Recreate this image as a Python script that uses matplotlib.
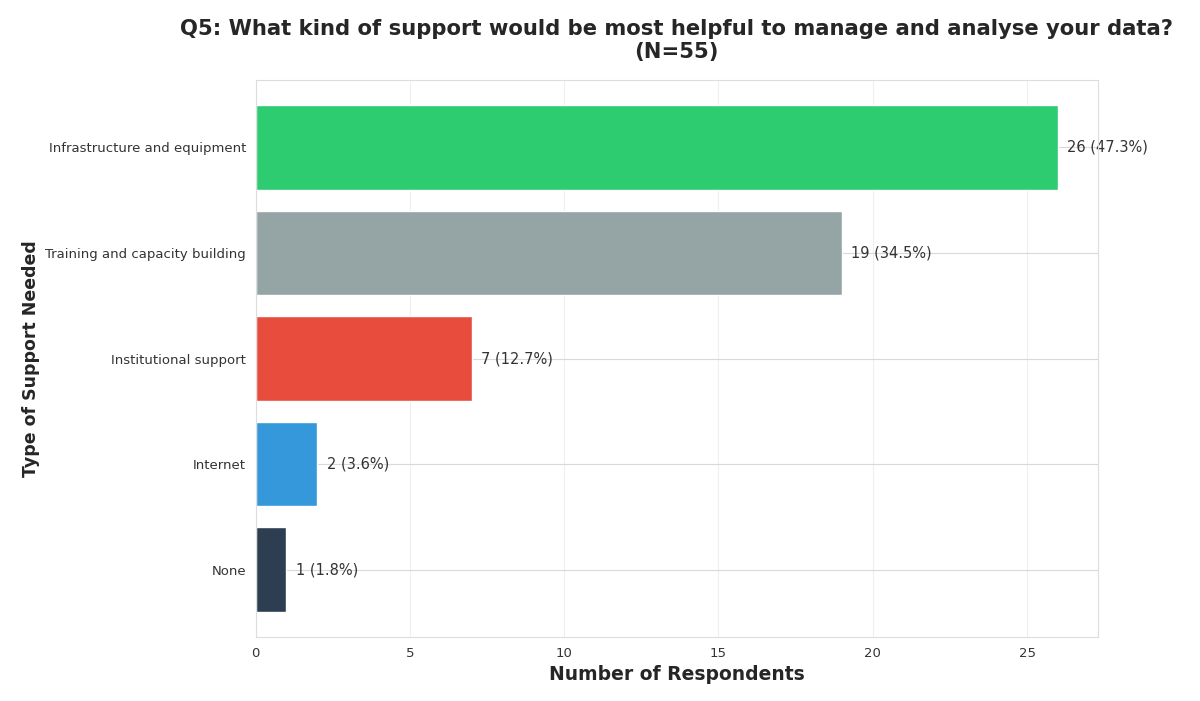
import matplotlib
matplotlib.use('Agg')
import matplotlib.pyplot as plt
import seaborn as sns

# Data
categories = ['Infrastructure and equipment', 'Training and capacity building',
              'Institutional support', 'Internet', 'None']
counts = [26, 19, 7, 2, 1]
n_total = 55
colors = ['#2ecc71', '#95a5a6', '#e74c3c', '#3498db', '#2c3e50']

sns.set_style('whitegrid')
plt.rcParams['font.family'] = ['DejaVu Sans']

fig = plt.figure(figsize=(12, 7.01), dpi=100)
ax = fig.add_axes([0.213, 0.091, 0.702, 0.795])

ypos = list(range(len(categories)))
ax.barh(ypos, counts, height=0.8, color=colors, edgecolor='white', linewidth=1, zorder=2)
ax.set_yticks(ypos)
ax.set_yticklabels(categories, fontsize=9.5, color='#333333')
ax.invert_yaxis()
ax.set_xlim(0, max(counts) * 1.05)

# value labels
for y, c in zip(ypos, counts):
    pct = c / n_total * 100
    ax.text(c + 0.3, y, f'{c} ({pct:.1f}%)', va='center', ha='left',
            fontsize=10.5, color='#333333', zorder=1)

ax.grid(axis='x', alpha=0.3)
ax.grid(axis='y', color='#d9d9d9')
for s in ax.spines.values():
    s.set_color('#dddddd')
ax.tick_params(axis='x', labelsize=9.5, colors='#333333')
ax.set_xlabel('Number of Respondents', fontsize=13.5, fontweight='bold', color='#262626')
ax.set_ylabel('Type of Support Needed', fontsize=12.5, fontweight='bold', color='#262626')
ax.set_title('Q5: What kind of support would be most helpful to manage and analyse your data?\n(N=55)',
             fontsize=15.2, fontweight='bold', color='#262626', pad=16, linespacing=1.15)

fig.savefig('out.png', dpi=100)
